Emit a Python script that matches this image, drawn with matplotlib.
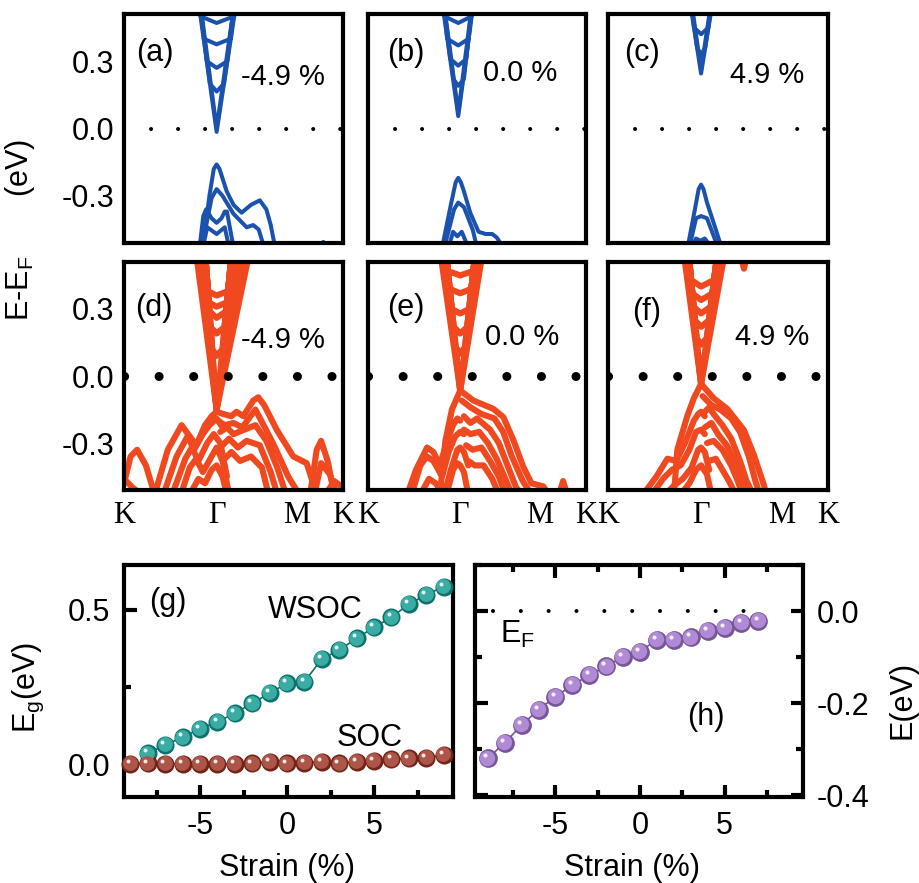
import matplotlib
matplotlib.use("Agg")
import matplotlib.pyplot as plt
import numpy as np
from matplotlib.colors import to_rgb
from matplotlib.ticker import MultipleLocator
from matplotlib.transforms import offset_copy

plt.rcParams["font.family"] = ["Liberation Sans", "DejaVu Sans"]
plt.rcParams["mathtext.default"] = "regular"
plt.rcParams["axes.unicode_minus"] = False

# k-path K - Gamma - M - K (normalised path length)
K_TICKS = [0.0, 0.4226, 0.7887, 1.0]
K_LABELS = ["K", "Γ", "M", "K"]

BLUE = "#1b52ad"
ORANGE = "#f0481f"

# ---- band data, (k, E) ---------------------------------------------------
# (a) WSOC, -4.9 %
A_BANDS = [
    ([0.345, 0.423, 0.508], [0.53, -0.015, 0.53]),
    ([0.352, 0.423, 0.500], [0.53, 0.000, 0.53]),
    ([0.350, 0.392, 0.423, 0.457, 0.500], [0.53, 0.20, 0.165, 0.20, 0.53]),
    ([0.350, 0.378, 0.423, 0.472, 0.500], [0.53, 0.30, 0.27, 0.30, 0.53]),
    ([0.352, 0.364, 0.423, 0.488, 0.500], [0.53, 0.40, 0.375, 0.40, 0.53]),
    ([0.349, 0.423, 0.503], [0.50, 0.47, 0.50]),
    ([0.360, 0.390, 0.410, 0.423, 0.436, 0.469, 0.500, 0.537, 0.580, 0.620, 0.650, 0.670, 0.690],
     [-0.53, -0.30, -0.18, -0.16, -0.18, -0.28, -0.34, -0.375, -0.34, -0.32, -0.36, -0.43, -0.53]),
    ([0.355, 0.400, 0.423, 0.450, 0.500, 0.560, 0.590, 0.615, 0.640],
     [-0.53, -0.31, -0.27, -0.30, -0.38, -0.44, -0.43, -0.45, -0.53]),
    ([0.345, 0.362, 0.375, 0.400, 0.423, 0.445, 0.460, 0.470, 0.500],
     [-0.53, -0.39, -0.36, -0.40, -0.42, -0.40, -0.37, -0.37, -0.53]),
    ([0.360, 0.380, 0.423, 0.460, 0.480], [-0.53, -0.44, -0.47, -0.44, -0.53]),
    ([0.890, 0.910, 0.930], [-0.55, -0.505, -0.55]),
]
# (b) WSOC, 0.0 %
B_BANDS = [
    ([0.345, 0.414, 0.480], [0.53, 0.055, 0.53]),
    ([0.352, 0.414, 0.474], [0.53, 0.070, 0.53]),
    ([0.350, 0.392, 0.414, 0.440, 0.475], [0.53, 0.22, 0.19, 0.22, 0.53]),
    ([0.350, 0.377, 0.414, 0.451, 0.475], [0.53, 0.31, 0.28, 0.31, 0.53]),
    ([0.350, 0.363, 0.414, 0.462, 0.475], [0.53, 0.40, 0.37, 0.40, 0.53]),
    ([0.350, 0.414, 0.476], [0.50, 0.47, 0.50]),
    ([0.340, 0.380, 0.402, 0.414, 0.426, 0.440, 0.469, 0.507, 0.540, 0.570, 0.591, 0.620],
     [-0.53, -0.34, -0.24, -0.22, -0.24, -0.28, -0.375, -0.46, -0.47, -0.47, -0.486, -0.53]),
    ([0.350, 0.395, 0.414, 0.440, 0.480, 0.500], [-0.53, -0.36, -0.33, -0.35, -0.45, -0.53]),
    ([0.370, 0.390, 0.410, 0.430, 0.460], [-0.53, -0.46, -0.48, -0.46, -0.53]),
]
# (c) WSOC, 4.9 %
C_BANDS = [
    ([0.378, 0.423, 0.470], [0.53, 0.245, 0.53]),
    ([0.384, 0.423, 0.464], [0.53, 0.260, 0.53]),
    ([0.382, 0.405, 0.423, 0.442, 0.466], [0.53, 0.36, 0.33, 0.36, 0.53]),
    ([0.382, 0.391, 0.423, 0.457, 0.466], [0.53, 0.45, 0.42, 0.45, 0.53]),
    ([0.362, 0.395, 0.412, 0.423, 0.434, 0.450, 0.490, 0.516],
     [-0.53, -0.36, -0.27, -0.25, -0.27, -0.33, -0.45, -0.53]),
    ([0.370, 0.400, 0.423, 0.450, 0.500], [-0.53, -0.40, -0.39, -0.40, -0.53]),
    ([0.380, 0.400, 0.420, 0.440, 0.470], [-0.53, -0.49, -0.50, -0.49, -0.53]),
]
# (d) SOC, -4.9 %
D_BANDS = [
    ([0.332, 0.423, 0.568], [0.53, -0.15, 0.53]),
    ([0.345, 0.423, 0.548], [0.53, -0.15, 0.53]),
    ([0.358, 0.423, 0.528], [0.53, -0.15, 0.53]),
    ([0.370, 0.423, 0.508], [0.53, -0.15, 0.53]),
    ([0.372, 0.423, 0.490], [0.53, -0.15, 0.53]),
    ([0.372, 0.403, 0.423, 0.450, 0.490], [0.53, 0.12, 0.09, 0.12, 0.53]),
    ([0.372, 0.395, 0.423, 0.459, 0.490], [0.53, 0.22, 0.19, 0.22, 0.53]),
    ([0.372, 0.390, 0.423, 0.466, 0.490], [0.53, 0.29, 0.26, 0.29, 0.53]),
    ([0.372, 0.387, 0.423, 0.470, 0.490], [0.53, 0.33, 0.31, 0.33, 0.53]),
    ([0.372, 0.383, 0.423, 0.475, 0.490], [0.53, 0.38, 0.36, 0.38, 0.53]),
    ([0.423, 0.454, 0.490, 0.514, 0.545, 0.590, 0.613, 0.640, 0.697, 0.773, 0.834, 0.880],
     [-0.16, -0.17, -0.18, -0.16, -0.18, -0.11, -0.095, -0.13, -0.24, -0.36, -0.39, -0.53]),
    ([0.430, 0.460, 0.500, 0.540, 0.600, 0.680, 0.750, 0.800], [-0.20, -0.22, -0.21, -0.23, -0.15, -0.30, -0.45, -0.53]),
    ([0.440, 0.470, 0.500, 0.550, 0.600, 0.650, 0.700, 0.740], [-0.25, -0.23, -0.26, -0.24, -0.22, -0.29, -0.41, -0.53]),
    ([0.450, 0.480, 0.520, 0.560, 0.620, 0.670, 0.700], [-0.31, -0.28, -0.32, -0.29, -0.31, -0.43, -0.53]),
    ([0.460, 0.490, 0.530, 0.580, 0.630, 0.660], [-0.37, -0.34, -0.38, -0.36, -0.41, -0.53]),
    ([0.140, 0.200, 0.263, 0.300, 0.330, 0.370, 0.400, 0.423], [-0.53, -0.33, -0.22, -0.27, -0.31, -0.22, -0.18, -0.16]),
    ([0.180, 0.240, 0.290, 0.320, 0.360, 0.390, 0.423, 0.450], [-0.53, -0.36, -0.27, -0.33, -0.26, -0.22, -0.19, -0.23]),
    ([0.220, 0.280, 0.310, 0.340, 0.380, 0.410, 0.440, 0.470], [-0.53, -0.37, -0.32, -0.38, -0.30, -0.26, -0.30, -0.45]),
    ([0.260, 0.300, 0.330, 0.360, 0.400, 0.423, 0.450, 0.480], [-0.53, -0.41, -0.37, -0.43, -0.36, -0.32, -0.38, -0.53]),
    ([0.300, 0.340, 0.370, 0.400, 0.423, 0.450, 0.470], [-0.53, -0.46, -0.48, -0.42, -0.40, -0.45, -0.53]),
    ([0.000, 0.030, 0.060, 0.100, 0.140], [-0.48, -0.36, -0.33, -0.40, -0.53]),
    ([0.000, 0.040, 0.080], [-0.46, -0.50, -0.53]),
    ([0.850, 0.880, 0.900, 0.930, 0.960], [-0.53, -0.33, -0.29, -0.38, -0.53]),
    ([0.870, 0.900, 0.940, 0.970], [-0.53, -0.39, -0.44, -0.53]),
    ([0.920, 0.960, 1.000], [-0.53, -0.47, -0.50]),
]
# (e) SOC, 0.0 %
E_BANDS = [
    ([0.335, 0.423, 0.522], [0.53, -0.065, 0.53]),
    ([0.348, 0.423, 0.505], [0.53, -0.065, 0.53]),
    ([0.360, 0.423, 0.490], [0.53, -0.065, 0.53]),
    ([0.360, 0.402, 0.423, 0.445, 0.490], [0.53, 0.13, 0.10, 0.13, 0.53]),
    ([0.360, 0.393, 0.423, 0.455, 0.490], [0.53, 0.22, 0.19, 0.22, 0.53]),
    ([0.360, 0.384, 0.423, 0.464, 0.490], [0.53, 0.30, 0.28, 0.30, 0.53]),
    ([0.360, 0.375, 0.423, 0.474, 0.490], [0.53, 0.39, 0.37, 0.39, 0.53]),
    ([0.360, 0.366, 0.423, 0.483, 0.490], [0.53, 0.47, 0.45, 0.47, 0.53]),
    ([0.423, 0.484, 0.575, 0.621, 0.667, 0.712, 0.750, 0.804, 0.830], [-0.065, -0.11, -0.147, -0.184, -0.287, -0.406, -0.48, -0.494, -0.53]),
    ([0.430, 0.470, 0.520, 0.580, 0.620, 0.660, 0.710, 0.750], [-0.11, -0.14, -0.17, -0.19, -0.25, -0.36, -0.47, -0.53]),
    ([0.440, 0.470, 0.500, 0.560, 0.600, 0.640, 0.680, 0.710], [-0.18, -0.21, -0.19, -0.24, -0.30, -0.40, -0.50, -0.53]),
    ([0.440, 0.470, 0.510, 0.550, 0.590, 0.630, 0.660], [-0.24, -0.26, -0.25, -0.30, -0.37, -0.46, -0.53]),
    ([0.450, 0.480, 0.520, 0.560, 0.600, 0.630], [-0.31, -0.33, -0.32, -0.38, -0.45, -0.53]),
    ([0.460, 0.490, 0.530, 0.570, 0.600], [-0.38, -0.40, -0.40, -0.46, -0.53]),
    ([0.330, 0.355, 0.385, 0.423], [-0.53, -0.29, -0.15, -0.065]),
    ([0.180, 0.220, 0.271, 0.300, 0.330, 0.360, 0.390, 0.410, 0.423], [-0.53, -0.42, -0.32, -0.34, -0.40, -0.30, -0.22, -0.19, -0.20]),
    ([0.200, 0.240, 0.270, 0.300, 0.340, 0.370, 0.400, 0.423, 0.440], [-0.53, -0.40, -0.36, -0.38, -0.45, -0.34, -0.27, -0.25, -0.26]),
    ([0.240, 0.280, 0.310, 0.350, 0.380, 0.410, 0.423, 0.440, 0.460], [-0.53, -0.46, -0.48, -0.53, -0.42, -0.33, -0.32, -0.34, -0.40]),
    ([0.360, 0.390, 0.410, 0.423, 0.440, 0.460], [-0.53, -0.42, -0.39, -0.40, -0.43, -0.53]),
    ([0.870, 0.895, 0.920], [-0.55, -0.47, -0.55]),
]
# (f) SOC, 4.9 %
F_BANDS = [
    ([0.347, 0.423, 0.527], [0.53, -0.035, 0.53]),
    ([0.358, 0.423, 0.510], [0.53, -0.035, 0.53]),
    ([0.368, 0.423, 0.495], [0.53, -0.035, 0.53]),
    ([0.368, 0.403, 0.423, 0.449, 0.495], [0.53, 0.17, 0.14, 0.17, 0.53]),
    ([0.368, 0.395, 0.423, 0.459, 0.495], [0.53, 0.25, 0.22, 0.25, 0.53]),
    ([0.368, 0.389, 0.423, 0.467, 0.495], [0.53, 0.31, 0.28, 0.31, 0.53]),
    ([0.368, 0.384, 0.423, 0.475, 0.495], [0.53, 0.37, 0.34, 0.37, 0.53]),
    ([0.368, 0.378, 0.423, 0.482, 0.495], [0.53, 0.43, 0.40, 0.43, 0.53]),
    ([0.600, 0.618, 0.635], [0.55, 0.48, 0.55]),
    ([0.423, 0.481, 0.542, 0.618, 0.663, 0.708, 0.720], [-0.035, -0.10, -0.147, -0.242, -0.353, -0.486, -0.53]),
    ([0.430, 0.470, 0.510, 0.560, 0.600, 0.640, 0.670, 0.690], [-0.09, -0.13, -0.15, -0.19, -0.25, -0.36, -0.47, -0.53]),
    ([0.440, 0.460, 0.480, 0.520, 0.560, 0.600, 0.630, 0.660], [-0.16, -0.14, -0.17, -0.22, -0.28, -0.38, -0.47, -0.53]),
    ([0.440, 0.470, 0.500, 0.540, 0.580, 0.610, 0.630], [-0.23, -0.21, -0.26, -0.31, -0.39, -0.47, -0.53]),
    ([0.450, 0.480, 0.520, 0.560, 0.590, 0.610], [-0.30, -0.29, -0.33, -0.40, -0.47, -0.53]),
    ([0.460, 0.490, 0.520, 0.550, 0.580], [-0.38, -0.37, -0.42, -0.47, -0.53]),
    ([0.300, 0.315, 0.360, 0.390, 0.423], [-0.53, -0.33, -0.18, -0.10, -0.035]),
    ([0.160, 0.220, 0.270, 0.310, 0.350, 0.390, 0.410, 0.423, 0.440], [-0.53, -0.45, -0.37, -0.38, -0.30, -0.20, -0.17, -0.16, -0.18]),
    ([0.200, 0.250, 0.290, 0.330, 0.370, 0.400, 0.423, 0.440], [-0.53, -0.46, -0.42, -0.40, -0.33, -0.25, -0.24, -0.26]),
    ([0.260, 0.300, 0.340, 0.380, 0.410, 0.423, 0.440, 0.460], [-0.53, -0.49, -0.46, -0.41, -0.33, -0.32, -0.34, -0.42]),
    ([0.330, 0.370, 0.400, 0.423, 0.450, 0.470], [-0.53, -0.48, -0.42, -0.40, -0.44, -0.53]),
]

# ---- gap / band-edge data vs strain -------------------------------------
STRAIN_WSOC = [-8, -7, -6, -5, -4, -3, -2, -1, 0, 1, 2, 3, 4, 5, 6, 7, 8, 9]
EG_WSOC = [0.035, 0.062, 0.087, 0.114, 0.137, 0.165, 0.197, 0.230, 0.262, 0.267,
           0.341, 0.370, 0.408, 0.444, 0.476, 0.519, 0.549, 0.576]
STRAIN_SOC = [-9, -8, -7, -6, -5, -4, -3, -2, -1, 0, 1, 2, 3, 4, 5, 6, 7, 8, 9]
EG_SOC = [0.0, 0.002, 0.0, 0.0, 0.0, 0.0, 0.0, 0.002, 0.008, 0.002, 0.004, 0.008,
          0.002, 0.008, 0.011, 0.015, 0.018, 0.021, 0.029]
STRAIN_H = [-9, -8, -7, -6, -5, -4, -3, -2, -1, 0, 1, 2, 3, 4, 5, 6, 7]
E_H = [-0.320, -0.286, -0.248, -0.214, -0.186, -0.161, -0.139, -0.120, -0.099,
       -0.088, -0.062, -0.063, -0.057, -0.043, -0.036, -0.025, -0.022]
EF_LINE_X = [-8.7, 7.75]

FIG_W, FIG_H = 919, 883
FS = 22


def frac(x0, y0, x1, y1):
    """pixel box -> figure fraction rect"""
    return [x0 / FIG_W, 1 - y1 / FIG_H, (x1 - x0) / FIG_W, (y1 - y0) / FIG_H]


def band_panel(ax, bands, color, lw, tag, strain, tag_xy, strain_xy, big_dots):
    for k, e in bands:
        ax.plot(k, e, color=color, lw=lw, solid_joinstyle="round",
                solid_capstyle="round", zorder=2)
    if big_dots:
        ax.plot([0, 1], [0, 0], color="black", lw=6.5, ls=(0, (0.01, 3.82)),
                dash_capstyle="round", zorder=3)
    else:
        ax.plot([0, 1], [0, 0], color="black", lw=2.9, ls=(0, (0.01, 6.7)),
                dash_capstyle="round", zorder=3)
    ax.set_xlim(0, 1)
    ax.set_ylim(-0.51, 0.51)
    ax.set_yticks([-0.3, 0.0, 0.3])
    ax.set_xticks(K_TICKS)
    ax.set_xticklabels(K_LABELS, family=["Liberation Serif", "DejaVu Serif"], fontsize=FS)
    ax.tick_params(length=0, labelsize=FS, pad=7)
    ax.tick_params(axis="x", pad=8)
    for s in ax.spines.values():
        s.set_linewidth(3.0)
        s.set_zorder(4)
    ax.text(*tag_xy, tag, transform=ax.transAxes, fontsize=FS, ha="center", va="center")
    ax.text(*strain_xy, strain, transform=ax.transAxes, fontsize=FS - 1, ha="center", va="center")


def spheres(ax, x, y, color, ms):
    fig = ax.figure
    base = np.array(to_rgb(color))
    dark = tuple(base * 0.75)
    light = tuple(base + (1 - base) * 0.18)
    ax.plot(x, y, color=dark, lw=1.2, zorder=3)
    ax.plot(x, y, "o", ms=ms, mfc=dark, mec="none", zorder=4, clip_on=False)
    t1 = offset_copy(ax.transData, fig=fig, x=-0.5, y=0.5, units="points")
    ax.plot(x, y, "o", ms=ms * 0.82, mfc=light, mec="none", transform=t1,
            zorder=5, clip_on=False)
    t2 = offset_copy(ax.transData, fig=fig, x=-2.0, y=2.1, units="points")
    ax.plot(x, y, "o", ms=ms * 0.22, mfc="white", mec="none", alpha=0.85,
            transform=t2, zorder=6, clip_on=False)


def style_bottom(ax):
    for s in ax.spines.values():
        s.set_linewidth(3.0)
    ax.tick_params(which="both", direction="in", width=3.0, labelsize=FS, pad=10)
    ax.tick_params(which="major", length=9)
    ax.tick_params(which="minor", length=5)


fig = plt.figure(figsize=(FIG_W / 100, FIG_H / 100), dpi=100)

cols = [(124, 343), (368, 586), (608, 828)]
top_row = (14, 243)
mid_row = (262, 490)

panels = [
    (A_BANDS, "(a)", "-4.9 %", (0.14, 0.83), (0.726, 0.727)),
    (B_BANDS, "(b)", "0.0 %", (0.173, 0.83), (0.70, 0.742)),
    (C_BANDS, "(c)", "4.9 %", (0.156, 0.83), (0.724, 0.734)),
    (D_BANDS, "(d)", "-4.9 %", (0.134, 0.797), (0.727, 0.658)),
    (E_BANDS, "(e)", "0.0 %", (0.173, 0.797), (0.708, 0.673)),
    (F_BANDS, "(f)", "4.9 %", (0.176, 0.782), (0.744, 0.673)),
]

for i, (bands, tag, strain, txy, sxy) in enumerate(panels):
    row = top_row if i < 3 else mid_row
    c0, c1 = cols[i % 3]
    ax = fig.add_axes(frac(c0, row[0], c1, row[1]))
    if i < 3:
        band_panel(ax, bands, BLUE, 2.9, tag, strain, txy, sxy, big_dots=False)
        ax.tick_params(labelbottom=False)
    else:
        band_panel(ax, bands, ORANGE, 4.4, tag, strain, txy, sxy, big_dots=True)
    if i % 3 != 0:
        ax.tick_params(labelleft=False)

fig.text(20 / FIG_W, 1 - 230 / FIG_H, "E-E$_F$       (eV)", rotation=90,
         fontsize=FS, ha="center", va="center")

# (g) band gap vs strain
axg = fig.add_axes(frac(124, 565, 453, 797))
spheres(axg, STRAIN_WSOC, EG_WSOC, "#0f9a90", 13)
spheres(axg, STRAIN_SOC, EG_SOC, "#9a3020", 13)
axg.set_xlim(-9.37, 9.54)
axg.set_ylim(-0.107, 0.646)
axg.xaxis.set_major_locator(MultipleLocator(5))
axg.xaxis.set_minor_locator(MultipleLocator(2.5))
axg.set_yticks([0.0, 0.5])
axg.yaxis.set_minor_locator(MultipleLocator(0.25))
style_bottom(axg)
axg.tick_params(which="both", top=False, right=False)
axg.text(0.134, 0.84, "(g)", transform=axg.transAxes, fontsize=FS, ha="center", va="center")
axg.text(0.58, 0.806, "WSOC", transform=axg.transAxes, fontsize=FS, ha="center", va="center")
axg.text(0.748, 0.254, "SOC", transform=axg.transAxes, fontsize=FS, ha="center", va="center")

# (h) band edge vs strain
axh = fig.add_axes(frac(475, 565, 803, 797))
axh.plot(EF_LINE_X, [0, 0], color="black", lw=2.9, ls=(0, (0.01, 6.9)),
         dash_capstyle="round", zorder=2)
spheres(axh, STRAIN_H, E_H, "#a070cc", 13.5)
axh.set_xlim(-9.76, 9.64)
axh.set_ylim(-0.404, 0.1)
axh.xaxis.set_major_locator(MultipleLocator(5))
axh.xaxis.set_minor_locator(MultipleLocator(2.5))
axh.set_yticks([-0.4, -0.2, 0.0])
axh.yaxis.set_minor_locator(MultipleLocator(0.1))
style_bottom(axh)
axh.tick_params(which="both", top=True, right=True, left=True,
                labelleft=False, labelright=True)
axh.text(0.704, 0.345, "(h)", transform=axh.transAxes, fontsize=FS, ha="center", va="center")
axh.text(0.13, 0.70, "$E_F$", transform=axh.transAxes, fontsize=FS, ha="center", va="center")

fig.text(28 / FIG_W, 1 - 687 / FIG_H, "$E_g$(eV)", rotation=90, fontsize=FS,
         ha="center", va="center")
fig.text(903 / FIG_W, 1 - 700 / FIG_H, "E(eV)", rotation=90, fontsize=FS,
         ha="center", va="center")
fig.text(287 / FIG_W, 1 - 868 / FIG_H, "Strain (%)", fontsize=FS, ha="center", va="center")
fig.text(632 / FIG_W, 1 - 868 / FIG_H, "Strain (%)", fontsize=FS, ha="center", va="center")

fig.savefig("out.png", dpi=100)
